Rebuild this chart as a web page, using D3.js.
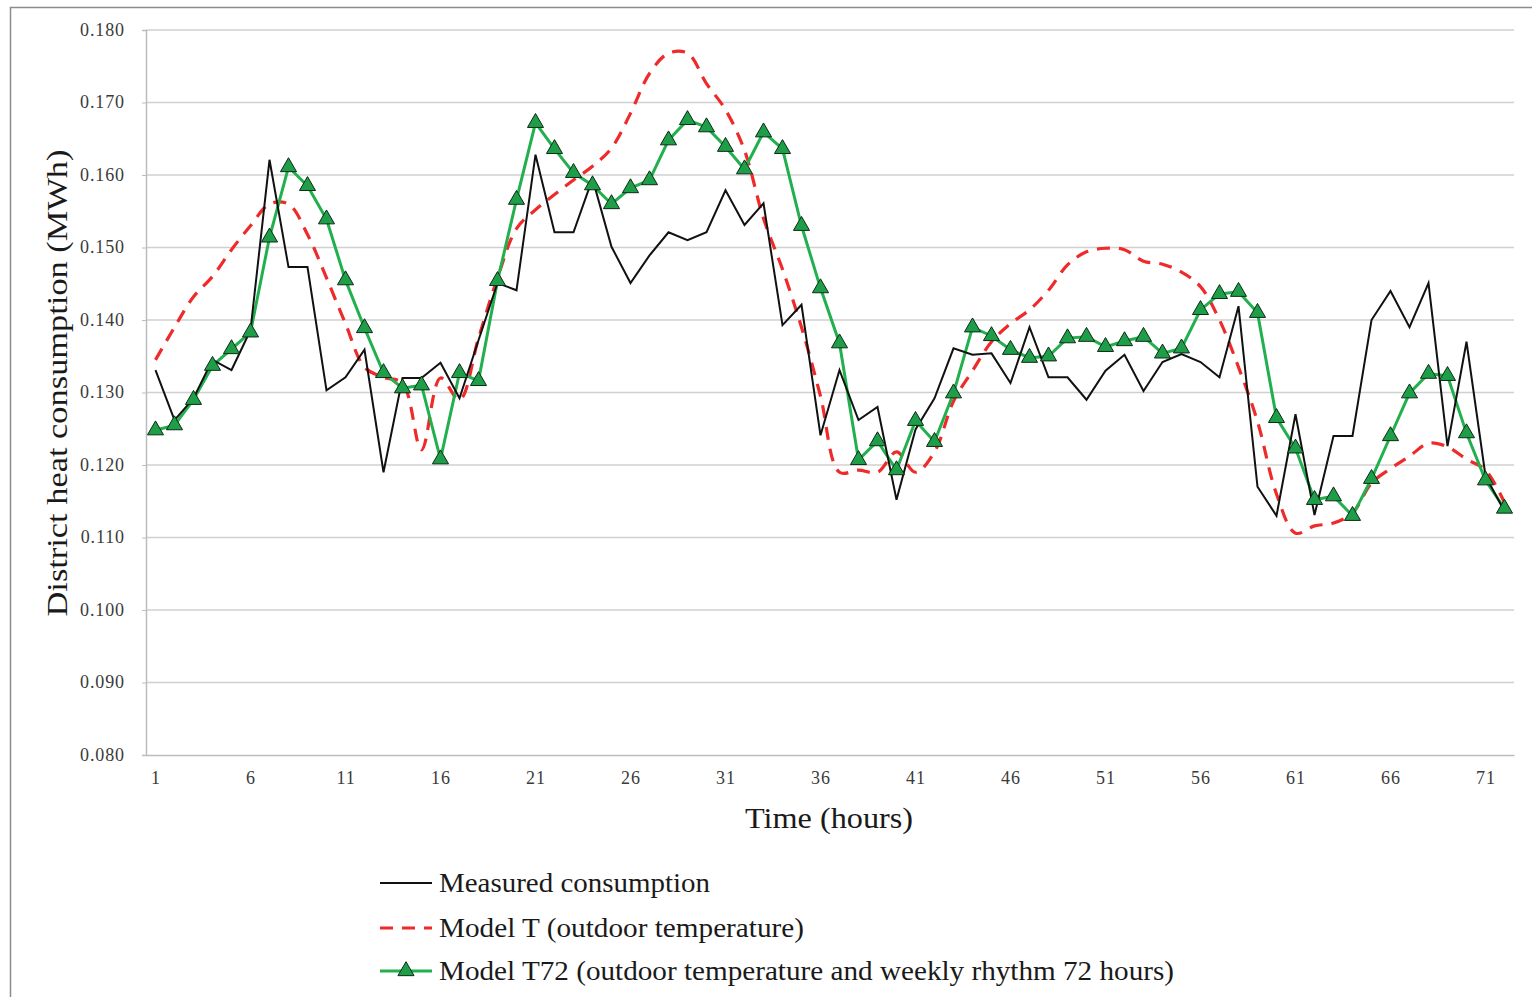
<!DOCTYPE html>
<html>
<head>
<meta charset="utf-8">
<script src="https://cdn.jsdelivr.net/npm/d3@7"></script>
<style>
  html, body { margin: 0; padding: 0; background: #fff; }
  svg { display: block; }
  text { font-family: "Liberation Serif", "Times New Roman", serif; }
</style>
</head>
<body>
<svg id="chart" width="1532" height="997"></svg>
<script>
// Hourly district heat consumption, measured vs. two models (72 hours)
const hours = d3.range(1, 73);

const measured = [
  0.1331, 0.1262, 0.1292, 0.1345, 0.1331, 0.1386, 0.1621, 0.1473, 0.1473, 0.1303,
  0.1321, 0.1359, 0.1190, 0.1320, 0.1320, 0.1341, 0.1292, 0.1372, 0.1451, 0.1441,
  0.1628, 0.1521, 0.1521, 0.1595, 0.1501, 0.1451, 0.1489, 0.1521, 0.1510, 0.1521,
  0.1579, 0.1531, 0.1561, 0.1393, 0.1421, 0.1241, 0.1331, 0.1262, 0.1280, 0.1152,
  0.1249, 0.1292, 0.1361, 0.1352, 0.1354, 0.1313, 0.1390, 0.1321, 0.1321, 0.1290,
  0.1330, 0.1352, 0.1302, 0.1342, 0.1353, 0.1342, 0.1321, 0.1419, 0.1170, 0.1130,
  0.1270, 0.1131, 0.1240, 0.1240, 0.1400, 0.1440, 0.1390, 0.1451, 0.1226, 0.1370,
  0.1185, 0.1136
];

const modelT = [
  0.1345, 0.1390, 0.1432, 0.1460, 0.1497, 0.1530, 0.1560, 0.1560, 0.1518, 0.1458,
  0.1395, 0.1335, 0.1321, 0.1313, 0.1221, 0.1320, 0.1290, 0.1375, 0.1458, 0.1526,
  0.1552, 0.1573, 0.1593, 0.1612, 0.1637, 0.1685, 0.1740, 0.1768, 0.1768, 0.1726,
  0.1690, 0.1634, 0.1540, 0.1470, 0.1390, 0.1295, 0.1190, 0.1193, 0.1190, 0.1218,
  0.1190, 0.1218, 0.1288, 0.1330, 0.1370, 0.1395, 0.1414, 0.1441, 0.1476, 0.1494,
  0.1499, 0.1497, 0.1481, 0.1477, 0.1466, 0.1446, 0.1400, 0.1335, 0.1260, 0.1160,
  0.1106, 0.1116, 0.1120, 0.1134, 0.1175, 0.1195, 0.1212, 0.1230, 0.1225, 0.1208,
  0.1193, 0.1148
];

const modelT72 = [
  0.1248, 0.1255, 0.1290, 0.1337, 0.1360, 0.1383, 0.1514, 0.1611, 0.1585, 0.1539,
  0.1455, 0.1389, 0.1327, 0.1306, 0.1310, 0.1208, 0.1327, 0.1316, 0.1454, 0.1566,
  0.1672, 0.1636, 0.1603, 0.1586, 0.1560, 0.1582, 0.1593, 0.1648, 0.1676, 0.1666,
  0.1639, 0.1608, 0.1659, 0.1636, 0.1530, 0.1444, 0.1368, 0.1207, 0.1233, 0.1193,
  0.1261, 0.1232, 0.1299, 0.1390, 0.1378, 0.1359, 0.1348, 0.1350, 0.1375, 0.1377,
  0.1363, 0.1371, 0.1377, 0.1354, 0.1361, 0.1414, 0.1436, 0.1439, 0.1410, 0.1265,
  0.1223, 0.1152, 0.1157, 0.1130, 0.1181, 0.1240, 0.1299, 0.1326, 0.1323, 0.1244,
  0.1179, 0.1140
];

const yTicks = [0.080, 0.090, 0.100, 0.110, 0.120, 0.130, 0.140, 0.150, 0.160, 0.170, 0.180];
const xTicks = [1, 6, 11, 16, 21, 26, 31, 36, 41, 46, 51, 56, 61, 66, 71];

const legendLabels = [
  "Measured consumption",
  "Model T (outdoor temperature)",
  "Model T72 (outdoor temperature and weekly rhythm 72 hours)"
];

const svg = d3.select("#chart");
const serif = '"Liberation Serif", "Times New Roman", serif';

// outer chart frame
svg.append("rect")
  .attr("x", 10.5).attr("y", 7.5)
  .attr("width", 1540).attr("height", 1000)
  .attr("fill", "none").attr("stroke", "#8c8c8c").attr("stroke-width", 1.5);

const plot = { left: 146, right: 1514, top: 30, bottom: 755 };

const x = d3.scalePoint()
  .domain(hours)
  .range([plot.left, plot.right])
  .padding(0.5);

const y = d3.scaleLinear()
  .domain([0.080, 0.180])
  .range([plot.bottom, plot.top]);

// horizontal gridlines
svg.append("g")
  .selectAll("line")
  .data(yTicks.filter(v => v > 0.08))
  .join("line")
  .attr("x1", plot.left).attr("x2", plot.right)
  .attr("y1", d => y(d)).attr("y2", d => y(d))
  .attr("stroke", "#d0d0d0").attr("stroke-width", 1.5);

// y axis
const yAxis = svg.append("g")
  .attr("transform", `translate(${plot.left},0)`)
  .call(d3.axisLeft(y).tickValues(yTicks).tickFormat(d3.format(".3f")).tickSize(4).tickPadding(17));
yAxis.attr("font-family", serif);
yAxis.select(".domain").attr("stroke", "#bcbcbc").attr("stroke-width", 1.5);
yAxis.selectAll(".tick line").attr("stroke", "#bcbcbc");
yAxis.selectAll(".tick text")
  .attr("font-size", 18).attr("fill", "#3a3a3a")
  .attr("letter-spacing", 0.9)
  .attr("dy", "0.3em");

// x axis
const xAxis = svg.append("g")
  .attr("transform", `translate(0,${plot.bottom})`)
  .call(d3.axisBottom(x).tickValues(xTicks).tickSize(0).tickPadding(16));
xAxis.attr("font-family", serif);
xAxis.select(".domain").attr("stroke", "#bcbcbc").attr("stroke-width", 1.5);
xAxis.selectAll(".tick text")
  .attr("font-size", 18).attr("fill", "#3a3a3a")
  .attr("letter-spacing", 0.9);

// axis titles
svg.append("text")
  .attr("x", 829).attr("y", 828)
  .attr("text-anchor", "middle")
  .attr("font-size", 30).attr("fill", "#1a1a1a")
  .attr("textLength", 168).attr("lengthAdjust", "spacingAndGlyphs")
  .text("Time (hours)");

svg.append("text")
  .attr("transform", "translate(67,383) rotate(-90)")
  .attr("text-anchor", "middle")
  .attr("font-size", 30).attr("fill", "#1a1a1a")
  .attr("textLength", 467).attr("lengthAdjust", "spacingAndGlyphs")
  .text("District heat consumption  (MWh)");

const redColor = "#ee2a2a";
const greenLine = "#22b04f";
const greenFill = "#1f9e4a";

// Model T: smoothed dashed line
const smoothLine = d3.line()
  .x((d, i) => x(hours[i]))
  .y(d => y(d))
  .curve(d3.curveCatmullRom.alpha(0.5));

svg.append("path")
  .datum(modelT)
  .attr("d", smoothLine)
  .attr("fill", "none")
  .attr("stroke", redColor).attr("stroke-width", 3.2)
  .attr("stroke-dasharray", "13,9");

// Model T72: straight segments with triangle markers
const straight = d3.line()
  .x((d, i) => x(hours[i]))
  .y(d => y(d));

svg.append("path")
  .datum(modelT72)
  .attr("d", straight)
  .attr("fill", "none")
  .attr("stroke", greenLine).attr("stroke-width", 3);

// Measured consumption
svg.append("path")
  .datum(measured)
  .attr("d", straight)
  .attr("fill", "none")
  .attr("stroke", "#111").attr("stroke-width", 2);

const tri = d3.symbol().type(d3.symbolTriangle).size(112);
svg.append("g")
  .selectAll("path")
  .data(modelT72)
  .join("path")
  .attr("transform", (d, i) => `translate(${x(hours[i])},${y(d)})`)
  .attr("d", tri)
  .attr("fill", greenFill)
  .attr("stroke", "#0c2a14").attr("stroke-width", 1);

// legend
const legend = svg.append("g");
const legendRows = [883, 928, 971];
const legendWidths = [271, 365, 735];

legend.append("line")
  .attr("x1", 380).attr("x2", 432)
  .attr("y1", legendRows[0]).attr("y2", legendRows[0])
  .attr("stroke", "#111").attr("stroke-width", 2);

legend.append("line")
  .attr("x1", 380).attr("x2", 432)
  .attr("y1", legendRows[1]).attr("y2", legendRows[1])
  .attr("stroke", redColor).attr("stroke-width", 3.2)
  .attr("stroke-dasharray", "13,9");

legend.append("line")
  .attr("x1", 380).attr("x2", 432)
  .attr("y1", legendRows[2]).attr("y2", legendRows[2])
  .attr("stroke", greenLine).attr("stroke-width", 3);

legend.append("path")
  .attr("transform", `translate(406,${legendRows[2]})`)
  .attr("d", tri)
  .attr("fill", greenFill)
  .attr("stroke", "#0c2a14").attr("stroke-width", 1);

legend.selectAll("text")
  .data(legendLabels)
  .join("text")
  .attr("x", 439)
  .attr("y", (d, i) => legendRows[i])
  .attr("dy", "0.33em")
  .attr("font-size", 28).attr("fill", "#1a1a1a")
  .attr("textLength", (d, i) => legendWidths[i])
  .attr("lengthAdjust", "spacingAndGlyphs")
  .text(d => d);
</script>
</body>
</html>
